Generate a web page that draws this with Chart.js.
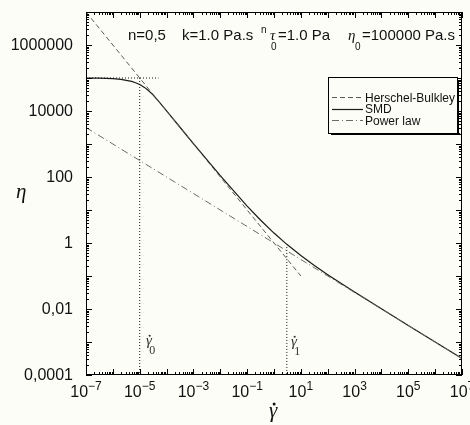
<!DOCTYPE html>
<html>
<head>
<meta charset="utf-8">
<script src="https://cdn.jsdelivr.net/npm/chart.js@4.4.1/dist/chart.umd.min.js"></script>
<style>
  html, body { margin: 0; padding: 0; background: #fdfdf8; }
  #wrap { width: 470px; height: 425px; }
</style>
</head>
<body>
<div id="wrap"><canvas id="viscChart" width="470" height="425"></canvas></div>
<script>
// Values: shear rate (1/s) vs viscosity (Pa.s)
const gammaSMD = [1e-7, 3e-7, 1e-6, 2e-6, 5e-6, 7e-6, 1e-5, 1.5e-5, 2e-5, 3e-5, 5e-5, 7e-5, 1e-4, 3e-4,
                  1e-3, 1e-2, 0.1, 0.3, 1, 3, 10, 30, 100, 300, 1e3, 1e4, 1e5, 1e6, 1e7];
const etaSMD = [99500, 98600, 95300, 90800, 78900, 72100, 63400, 52000, 43400, 31800, 20000, 14400, 10100, 3391,
                1032, 110, 13.16, 5.16, 2, 0.911, 0.416, 0.216, 0.11, 0.0611, 0.0326, 0.0101, 0.00317, 0.001, 0.000316];

// dashed yield-stress branch, runs past the power law near gamma1
const gammaHB = [1e-7, 1e-5, 1e-3, 0.1, 1, 10];
const etaHB = [1e7, 1e5, 1000, 10, 1, 0.1];

const gammaPL = [1e-7, 1e-3, 1, 1e3, 1e7];
const etaPL = [3162, 31.62, 1, 0.0316, 0.000316];

// reference guides: eta0 plateau, gamma0 and gamma1 markers
const eta0Gamma = [1e-7, 5e-5];
const eta0Eta = [1e5, 1e5];
const gamma0X = [1e-5, 1e-5];
const gamma0Y = [1e5, 1e-4];
const gamma1X = [3, 3];
const gamma1Y = [0.76, 1e-4];

const xTickExps = [-7, -5, -3, -1, 1, 3, 5, 7];
const yTickValues = [1e-4, 1e-2, 1, 100, 1e4, 1e6];
const yTickLabels = ['0,0001', '0,01', '1', '100', '10000', '1000000'];

const legendItems = ['Herschel-Bulkley', 'SMD', 'Power law'];

function toPoints(xs, ys) {
    return xs.map((v, i) => ({ x: v, y: ys[i] }));
}

const guideStyle = { borderColor: '#111', borderWidth: 1, borderDash: [1, 2], pointRadius: 0, fill: false };

const datasets = [
    { label: 'eta0', data: toPoints(eta0Gamma, eta0Eta), ...guideStyle },
    { label: 'gamma0', data: toPoints(gamma0X, gamma0Y), ...guideStyle },
    { label: 'gamma1', data: toPoints(gamma1X, gamma1Y), ...guideStyle },
    { label: legendItems[2], data: toPoints(gammaPL, etaPL), borderColor: '#6a6a6a', borderWidth: 1,
      borderDash: [7, 3, 1, 3], pointRadius: 0, fill: false },
    { label: legendItems[0], data: toPoints(gammaHB, etaHB), borderColor: '#5a5a5a', borderWidth: 1,
      borderDash: [5, 3], pointRadius: 0, fill: false },
    { label: legendItems[1], data: toPoints(gammaSMD, etaSMD), borderColor: '#1a1a1a', borderWidth: 1.2,
      pointRadius: 0, fill: false }
];

// gamma with a dot on top (shear rate symbol)
function gammaDot(ctx, x, y, size, sub) {
    ctx.font = 'italic ' + size + 'px "Liberation Serif"';
    ctx.fillText('\u03b3', x, y);
    const w = ctx.measureText('\u03b3').width;
    ctx.beginPath();
    ctx.arc(x + w * 0.62, y - size * 0.62, size / 14, 0, Math.PI * 2);
    ctx.fill();
    if (sub) {
        ctx.font = Math.round(size * 0.8) + 'px "Liberation Serif"';
        ctx.fillText(sub, x + w * 0.55, y + 9);
    }
}

// frame with inward log ticks on all four sides, plus all the text
const frameTicks = {
    id: 'frameTicks',
    afterDatasetsDraw(chart) {
        const { ctx, chartArea: a, scales: { x, y } } = chart;
        ctx.save();
        ctx.strokeStyle = '#000';
        ctx.lineWidth = 1;
        ctx.setLineDash([]);
        ctx.strokeRect(a.left + 0.5, a.top + 0.5, a.right - a.left - 1, a.bottom - a.top - 1);
        ctx.beginPath();
        for (let e = -7; e <= 7; e++) {
            for (let m = 1; m <= 9; m++) {
                if (e === 7 && m > 1) break;
                const px = Math.round(x.getPixelForValue(m * Math.pow(10, e))) + 0.5;
                const len = m === 1 ? 6 : 3;
                ctx.moveTo(px, a.bottom); ctx.lineTo(px, a.bottom - len);
                ctx.moveTo(px, a.top); ctx.lineTo(px, a.top + len);
            }
        }
        for (let e = -4; e <= 7; e++) {
            for (let m = 1; m <= 9; m++) {
                if (e === 7 && m > 1) break;
                const py = Math.round(y.getPixelForValue(m * Math.pow(10, e))) + 0.5;
                const len = m === 1 ? 6 : 3;
                ctx.moveTo(a.left, py); ctx.lineTo(a.left + len, py);
                ctx.moveTo(a.right, py); ctx.lineTo(a.right - len, py);
            }
        }
        ctx.stroke();
        ctx.restore();
    },
    afterDraw(chart) {
        const { ctx, scales: { x, y } } = chart;
        ctx.save();
        ctx.fillStyle = '#111';

        // y tick labels
        ctx.font = '16px Arial, "Liberation Sans"';
        ctx.textAlign = 'right';
        ctx.textBaseline = 'middle';
        yTickValues.forEach((v, i) => {
            ctx.fillText(yTickLabels[i], 73, y.getPixelForValue(v) + 1);
        });

        // x tick labels as 10^n
        ctx.textAlign = 'left';
        ctx.textBaseline = 'alphabetic';
        xTickExps.forEach(p => {
            const px = x.getPixelForValue(Math.pow(10, p));
            const sup = String(p).replace('-', '\u2212');
            ctx.font = '16px Arial, "Liberation Sans"';
            const wb = ctx.measureText('10').width;
            ctx.font = '12px Arial, "Liberation Sans"';
            const ws = ctx.measureText(sup).width;
            const x0 = px - (wb + ws) / 2;
            ctx.font = '16px Arial, "Liberation Sans"';
            ctx.fillText('10', x0, 397);
            ctx.font = '12px Arial, "Liberation Sans"';
            ctx.fillText(sup, x0 + wb, 390);
        });

        // axis titles
        ctx.font = 'italic 21px "Liberation Serif"';
        ctx.fillText('\u03b7', 16, 198);
        gammaDot(ctx, 269, 417, 21, null);

        // gamma0 / gamma1 markers
        ctx.fillStyle = '#333';
        gammaDot(ctx, 146, 345, 15, '0');
        gammaDot(ctx, 291, 346, 15, '1');

        // parameter line
        ctx.fillStyle = '#111';
        ctx.font = '15px Arial, "Liberation Sans"';
        ctx.fillText('n=0,5', 128, 40);
        ctx.fillText('k=1.0 Pa.s', 182, 40);
        ctx.font = '10px Arial, "Liberation Sans"';
        ctx.fillText('n', 261, 33);
        ctx.font = 'italic 15px "Liberation Serif"';
        ctx.fillText('\u03c4', 270, 40);
        ctx.font = '10px Arial, "Liberation Sans"';
        ctx.fillText('0', 271, 50);
        ctx.font = '15px Arial, "Liberation Sans"';
        ctx.fillText('=1.0 Pa', 278, 40);
        ctx.font = 'italic 15px "Liberation Serif"';
        ctx.fillText('\u03b7', 348, 40);
        ctx.font = '10px Arial, "Liberation Sans"';
        ctx.fillText('0', 355, 50);
        ctx.font = '15px Arial, "Liberation Sans"';
        ctx.fillText('=100000 Pa.s', 362, 40);

        // legend box with drop shadow
        const bx = 328, by = 77, bw = 129, bh = 56;
        ctx.fillStyle = '#000';
        ctx.fillRect(bx + 3, by + bh, bw, 2);
        ctx.fillRect(bx + bw, by + 3, 2, bh - 1);
        ctx.fillStyle = '#fdfdf8';
        ctx.fillRect(bx, by, bw, bh);
        ctx.strokeStyle = '#000';
        ctx.lineWidth = 1;
        ctx.strokeRect(bx + 0.5, by + 0.5, bw, bh);

        const order = [4, 5, 3];
        ctx.font = '12px Arial, "Liberation Sans"';
        order.forEach((di, i) => {
            const ds = chart.data.datasets[di];
            const ly = 97 + i * 11.5;
            ctx.beginPath();
            ctx.strokeStyle = ds.borderColor;
            ctx.lineWidth = ds.borderWidth;
            ctx.setLineDash(ds.borderDash || []);
            ctx.moveTo(332, Math.round(ly) + 0.5);
            ctx.lineTo(363, Math.round(ly) + 0.5);
            ctx.stroke();
            ctx.fillStyle = '#111';
            ctx.fillText(ds.label, 365, ly + 4.5);
        });
        ctx.restore();
    }
};

new Chart(document.getElementById('viscChart'), {
    type: 'line',
    data: { datasets },
    options: {
        responsive: false,
        animation: false,
        devicePixelRatio: 1,
        layout: { padding: { left: 86, top: 12, right: 8, bottom: 50 } },
        scales: {
            x: { type: 'logarithmic', min: 1e-7, max: 1e7, display: false },
            y: { type: 'logarithmic', min: 1e-4, max: 1e7, display: false }
        },
        elements: { line: { tension: 0 } },
        plugins: { legend: { display: false }, tooltip: { enabled: false } }
    },
    plugins: [frameTicks]
});
</script>
</body>
</html>
